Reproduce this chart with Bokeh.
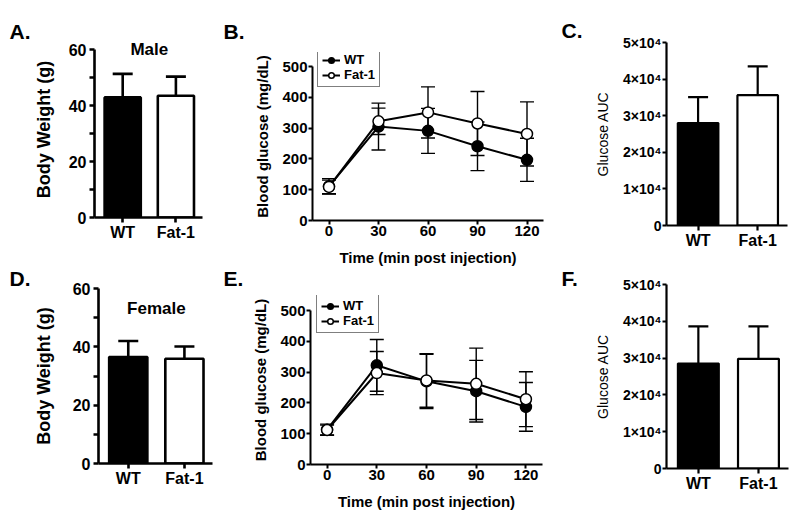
from bokeh.plotting import figure
from bokeh.models import (Range1d, FixedTicker, Label, Legend, LegendItem,
                          Whisker, TeeHead, ColumnDataSource)
from bokeh.layouts import row, column
from bokeh.embed import file_html
from bokeh.resources import INLINE

FONT = "Liberation Sans"

# ---------------- data ----------------
categories = ["WT", "Fat-1"]

male_weight = [42.9, 43.5]
male_weight_sd = [8.4, 6.8]
female_weight = [36.5, 35.9]
female_weight_sd = [5.5, 4.2]

time_min = [0, 30, 60, 90, 120]
male_wt_glucose = [111, 305, 291, 241, 197]
male_wt_glucose_sd = [25, 76, 73, 79, 70]
male_fat1_glucose = [109, 322, 351, 315, 281]
male_fat1_glucose_sd = [22, 43, 83, 104, 104]
female_wt_glucose = [113, 322, 270, 238, 187]
female_wt_glucose_sd = [18, 84, 88, 100, 79]
female_fat1_glucose = [112, 297, 273, 262, 212]
female_fat1_glucose_sd = [16, 70, 87, 116, 89]

male_auc = [28000, 35600]
male_auc_sd = [7100, 7900]
female_auc = [28500, 29800]
female_auc_sd = [10100, 8800]

weight_ticks = [0, 20, 40, 60]
weight_minor_ticks = [10, 30, 50]
glucose_ticks = [0, 100, 200, 300, 400, 500]
auc_ticks = [0, 10000, 20000, 30000, 40000, 50000]
auc_tick_labels = ["0", "1×10⁴", "2×10⁴", "3×10⁴", "4×10⁴", "5×10⁴"]

panel_letters = ["A.", "B.", "C.", "D.", "E.", "F."]

cat_pos = [i + 1 for i in range(len(categories))]


def make_fig(origin, size, frame, xr, yr):
    ox, oy = origin
    w, h = size
    fl, ft, fr, fb = frame
    p = figure(width=w, height=h, x_range=Range1d(*xr), y_range=Range1d(*yr),
               output_backend="svg", toolbar_location=None,
               min_border_left=fl - ox, min_border_top=ft - oy,
               min_border_right=ox + w - fr, min_border_bottom=oy + h - fb)
    p.outline_line_color = None
    p.xgrid.visible = False
    p.ygrid.visible = False
    p.background_fill_color = "white"
    p.border_fill_color = "white"
    return p


def strip(origin, size, letters):
    """Blank figure (no axes) whose frame fills it, used to hold panel letters."""
    ox, oy = origin
    w, h = size
    p = figure(width=w, height=h, x_range=Range1d(0, w), y_range=Range1d(h, 0),
               output_backend="svg", toolbar_location=None,
               x_axis_location=None, y_axis_location=None,
               min_border_left=0, min_border_right=0, min_border_top=0, min_border_bottom=0)
    p.outline_line_color = None
    p.xgrid.visible = False
    p.ygrid.visible = False
    p.background_fill_color = "white"
    p.border_fill_color = "white"
    for text, px, py in letters:
        p.add_layout(Label(x=px - ox, y=py - oy, text=text, text_font=FONT,
                           text_font_size="21px", text_font_style="bold",
                           text_align="left", text_baseline="alphabetic",
                           text_color="black"))
    return p


def style_axis(ax, line_w, tick_out, label_size, label_standoff, label_style="bold",
               title=None, title_size="15px", title_style="bold", title_standoff=5):
    ax.axis_line_width = line_w
    ax.axis_line_color = "black"
    ax.major_tick_out = tick_out
    ax.major_tick_in = 0
    ax.major_tick_line_width = line_w
    ax.major_tick_line_color = "black"
    ax.minor_tick_out = tick_out
    ax.minor_tick_in = 0
    ax.minor_tick_line_width = line_w
    ax.minor_tick_line_color = "black"
    ax.major_label_text_font = FONT
    ax.major_label_text_font_size = label_size
    ax.major_label_text_font_style = label_style
    ax.major_label_text_color = "black"
    ax.major_label_standoff = label_standoff
    if title is not None:
        ax.axis_label = title
        ax.axis_label_text_font = FONT
        ax.axis_label_text_font_size = title_size
        ax.axis_label_text_font_style = title_style
        ax.axis_label_text_color = "black"
        ax.axis_label_standoff = title_standoff


def bar_panel(origin, size, frame, y_top_px, ymax, vals, sds, yticks, yminor, ylabels,
              ytitle, ytitle_size, ytitle_style, ytick_size, ytitle_standoff, line_w):
    fl, ft, fr, fb = frame
    # extend the range a little above the last tick so top texts are not clipped
    yr = (0, ymax * (fb - ft) / (fb - y_top_px))
    p = make_fig(origin, size, frame, (0.47, 2.5), yr)
    src = ColumnDataSource(dict(x=cat_pos, top=vals, upper=[v + s for v, s in zip(vals, sds)],
                                fill=["black", "white"]))
    p.vbar(x="x", top="top", bottom=0, width=0.68, source=src, fill_color="fill",
           line_color="black", line_width=line_w)
    p.add_layout(Whisker(base="x", upper="upper", lower="top", source=src,
                         line_color="black", line_width=line_w,
                         upper_head=TeeHead(size=20, line_color="black", line_width=line_w),
                         lower_head=None))
    p.xaxis.ticker = FixedTicker(ticks=cat_pos)
    p.xaxis.major_label_overrides = {c: t for c, t in zip(cat_pos, categories)}
    style_axis(p.xaxis[0], line_w, 5, "16px", 1)
    p.xaxis.minor_tick_out = 0
    p.yaxis.ticker = FixedTicker(ticks=yticks, minor_ticks=yminor)
    p.yaxis.bounds = (0, ymax)
    if ylabels is not None:
        p.yaxis.major_label_overrides = {t: l for t, l in zip(yticks, ylabels)}
    style_axis(p.yaxis[0], line_w, 5 if yminor else 4, ytick_size, 3 if yminor else 1,
               title=ytitle, title_size=ytitle_size, title_style=ytitle_style,
               title_standoff=ytitle_standoff)
    return p


def line_panel(origin, size, frame, y_top_px, wt, wt_sd, fat, fat_sd, legend_loc,
               title_standoff):
    fl, ft, fr, fb = frame
    ymax = glucose_ticks[-1]
    yr = (0, ymax * (fb - ft) / (fb - y_top_px))
    p = make_fig(origin, size, frame, (-10, 130), yr)
    for vals, sds in ((wt, wt_sd), (fat, fat_sd)):
        s = ColumnDataSource(dict(x=time_min, upper=[v + e for v, e in zip(vals, sds)],
                                  lower=[v - e for v, e in zip(vals, sds)]))
        p.add_layout(Whisker(base="x", upper="upper", lower="lower", source=s,
                             level="underlay", line_color="black", line_width=1.4,
                             upper_head=TeeHead(size=14, line_color="black", line_width=1.4),
                             lower_head=TeeHead(size=14, line_color="black", line_width=1.4)))
    l_wt = p.line(time_min, wt, line_color="black", line_width=2)
    l_fat = p.line(time_min, fat, line_color="black", line_width=2)
    m_wt = p.scatter(time_min, wt, marker="circle", size=11, fill_color="black",
                     line_color="black", line_width=1.5)
    m_fat = p.scatter(time_min, fat, marker="circle", size=11, fill_color="white",
                      line_color="black", line_width=1.5)
    leg = Legend(items=[LegendItem(label=categories[0], renderers=[l_wt, m_wt]),
                        LegendItem(label=categories[1], renderers=[l_fat, m_fat])],
                 location=legend_loc, orientation="vertical",
                 border_line_color="black", border_line_width=1.5,
                 background_fill_color="white", background_fill_alpha=1,
                 padding=4, spacing=0, margin=0, label_height=14, glyph_height=14,
                 glyph_width=18, label_standoff=4,
                 label_text_font=FONT, label_text_font_size="13px",
                 label_text_font_style="bold", label_text_color="black")
    p.add_layout(leg)
    p.xaxis.ticker = FixedTicker(ticks=time_min)
    p.yaxis.ticker = FixedTicker(ticks=glucose_ticks)
    p.yaxis.bounds = (0, ymax)
    style_axis(p.xaxis[0], 2, 4, "15px", 1, title="Time (min post injection)",
               title_size="15px", title_standoff=10)
    style_axis(p.yaxis[0], 2, 4, "15px", 1, title="Blood glucose (mg/dL)",
               title_size="15px", title_standoff=title_standoff)
    p.xaxis.minor_tick_out = 0
    p.yaxis.minor_tick_out = 0
    return p


# ---------------- column 1: A / D ----------------
sAD = strip((0, 0), (30, 520), [(panel_letters[0], 9, 31), (panel_letters[3], 9, 278)])
pA = bar_panel((30, 0), (185, 250), (89, 41, 202, 217), 49, 60,
               male_weight, male_weight_sd, weight_ticks, weight_minor_ticks, None,
               "Body Weight (g)", "18px", "bold", "16px", 12, 2.6)
pA.add_layout(Label(x=1.5, y=60, text="Male", text_font=FONT, text_font_size="17px",
                    text_font_style="bold", text_align="center", text_baseline="middle",
                    text_color="black"))
pD = bar_panel((30, 250), (185, 270), (93, 288, 212, 463), 288, 60,
               female_weight, female_weight_sd, weight_ticks, weight_minor_ticks, None,
               "Body Weight (g)", "18px", "bold", "16px", 16, 2.6)
pD.add_layout(Label(x=1.5, y=53, text="Female", text_font=FONT, text_font_size="17px",
                    text_font_style="bold", text_align="center", text_baseline="middle",
                    text_color="black"))

# ---------------- column 2: B / E ----------------
sBE = strip((215, 0), (34, 520), [(panel_letters[1], 223, 31), (panel_letters[4], 223, 278)])
pB = line_panel((249, 0), (307, 272), (312, 52, 543, 220), 66,
                male_wt_glucose, male_wt_glucose_sd, male_fat1_glucose, male_fat1_glucose_sd,
                (5, 133), 8)
pE = line_panel((249, 272), (307, 248), (309, 295, 542, 464), 310,
                female_wt_glucose, female_wt_glucose_sd, female_fat1_glucose,
                female_fat1_glucose_sd, (6, 131), 8)

# ---------------- column 3: C / F ----------------
sCF = strip((556, 0), (36, 520), [(panel_letters[2], 561, 30), (panel_letters[5], 561, 278)])
pC = bar_panel((592, 0), (208, 257), (665, 42, 787, 225), 42, 50000,
               male_auc, male_auc_sd, auc_ticks, [], auc_tick_labels,
               "Glucose AUC", "14px", "normal", "14px", 9, 2.2)
pF = bar_panel((592, 257), (208, 263), (666, 284, 788, 468), 284, 50000,
               female_auc, female_auc_sd, auc_ticks, [], auc_tick_labels,
               "Glucose AUC", "14px", "normal", "14px", 9, 2.2)

# each plot wrapped on its own so that plots stacked in a column keep their own borders
col1 = column(column(pA), column(pD))
col2 = column(column(pB), column(pE))
col3 = column(column(pC), column(pF))
layout = row(sAD, col1, sBE, col2, sCF, col3)

open("out.html", "w").write(file_html(layout, INLINE))
